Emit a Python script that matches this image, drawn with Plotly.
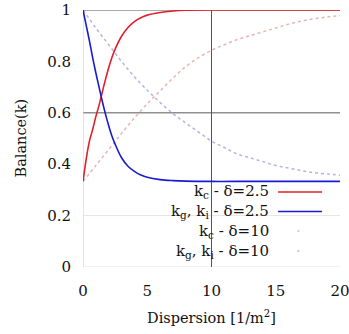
import plotly.graph_objects as go

# ---- data ----
x_solid = [0, 0.25, 0.5, 0.75, 1, 1.25, 1.5, 1.75, 2, 2.25, 2.5, 3, 3.5, 4, 4.5, 5, 6, 7, 8, 10, 12, 15, 20]
kc_25 = [0.333, 0.42, 0.49, 0.535, 0.585, 0.63, 0.68, 0.73, 0.775, 0.815, 0.848, 0.898, 0.932, 0.955, 0.97, 0.98, 0.99, 0.996, 0.999, 1.0, 1.0, 1.0, 1.0]
kg_25 = [1.0, 0.94, 0.88, 0.815, 0.755, 0.70, 0.645, 0.595, 0.55, 0.51, 0.478, 0.425, 0.392, 0.372, 0.358, 0.349, 0.34, 0.336, 0.334, 0.333, 0.333, 0.333, 0.333]

x_dot = [0, 1, 2, 3, 4, 5, 6, 7, 8, 9, 10, 11, 12, 13, 14, 15, 16, 17, 18, 19, 20]
kc_10 = [0.333, 0.395, 0.457, 0.52, 0.58, 0.635, 0.685, 0.735, 0.78, 0.815, 0.843, 0.865, 0.885, 0.90, 0.915, 0.93, 0.945, 0.957, 0.966, 0.973, 0.978]
kg_10 = [1.0, 0.93, 0.865, 0.80, 0.74, 0.688, 0.64, 0.597, 0.56, 0.525, 0.49, 0.465, 0.44, 0.425, 0.41, 0.395, 0.385, 0.375, 0.367, 0.362, 0.357]

series_names = ["k<sub>c</sub> - δ=2.5", "k<sub>g</sub>, k<sub>i</sub> - δ=2.5",
                "k<sub>c</sub> - δ=10", "k<sub>g</sub>, k<sub>i</sub> - δ=10"]
x_ticks = [0, 5, 10, 15, 20]
y_ticks = [0, 0.2, 0.4, 0.6, 0.8, 1]
y_tick_text = ["0", "0.2", "0.4", "0.6", "0.8", "1"]

RED = "#e0202a"
BLUE = "#1a1ad0"
RED_L = "rgba(215,130,130,0.6)"
BLUE_L = "rgba(130,130,205,0.6)"
FONT = "DejaVu Serif"

fig = go.Figure()
fig.add_trace(go.Scatter(x=x_dot, y=kc_10, mode="lines", line=dict(color=RED_L, width=1.5, dash="dot", shape="spline"), showlegend=False))
fig.add_trace(go.Scatter(x=x_dot, y=kg_10, mode="lines", line=dict(color=BLUE_L, width=1.5, dash="dot", shape="spline"), showlegend=False))
fig.add_trace(go.Scatter(x=x_solid, y=kc_25, mode="lines", line=dict(color=RED, width=1.6, shape="spline"), showlegend=False))
fig.add_trace(go.Scatter(x=x_solid, y=kg_25, mode="lines", line=dict(color=BLUE, width=1.6, shape="spline"), showlegend=False))

shapes = []
def hline(y, color, w):
    shapes.append(dict(type="line", xref="x", yref="y", x0=0, x1=20, y0=y, y1=y, line=dict(color=color, width=w), layer="below"))
def vline(x, color, w):
    shapes.append(dict(type="line", xref="x", yref="y", x0=x, x1=x, y0=0, y1=1, line=dict(color=color, width=w), layer="below"))
hline(0, "#e4e4e4", 1)
hline(0.2, "#e4e4e4", 1)
hline(0.6, "#909090", 1.5)
hline(1, "#555555", 1.2)
vline(0, "#cccccc", 1)
vline(10, "#555555", 1)
shapes.append(dict(type="rect", xref="paper", yref="paper", x0=0.28, x1=1.04, y0=0.033, y1=0.329,
                   fillcolor="white", line=dict(width=0), layer="below"))
rows_y = [0.292, 0.216, 0.140, 0.062]
sample_styles = [(RED, 1.6, "solid", 0.759, 0.930), (BLUE, 1.6, "solid", 0.759, 0.930),
                 (RED_L, 1.5, "dot", 0.834, 0.842), (BLUE_L, 1.5, "dot", 0.834, 0.842)]
for yy, (c, w, d, xa, xb) in zip(rows_y, sample_styles):
    shapes.append(dict(type="line", xref="paper", yref="paper", x0=xa, x1=xb, y0=yy, y1=yy,
                       line=dict(color=c, width=w, dash=d), layer="above"))

annotations = []
for yy, name in zip(rows_y, series_names):
    annotations.append(dict(xref="paper", yref="paper", x=0.73, y=yy, xanchor="right", yanchor="middle",
                            text=name, showarrow=False, font=dict(family=FONT, size=15, color="#111")))
annotations.append(dict(xref="paper", yref="paper", x=0.5, y=(267.5 - 317) / 257,
                        xanchor="center", yanchor="middle", text="Dispersion [1/m<sup>2</sup>]",
                        showarrow=False, font=dict(family=FONT, size=14.5, color="#111")))
annotations.append(dict(xref="paper", yref="paper", x=(20 - 83) / 257, y=0.5, textangle=-90,
                        xanchor="center", yanchor="middle", text="Balance(k)",
                        showarrow=False, font=dict(family=FONT, size=14.5, color="#111")))

fig.update_layout(
    width=349, height=334,
    font=dict(family=FONT),
    margin=dict(l=83, r=9, t=10, b=67, autoexpand=False),
    paper_bgcolor="white", plot_bgcolor="white",
    shapes=shapes, annotations=annotations,
    xaxis=dict(range=[0, 20], tickvals=x_ticks, showgrid=False, zeroline=False, showline=False,
               ticks="outside", ticklen=10, tickcolor="rgba(0,0,0,0)", automargin=False,
               ticklabeloverflow="allow",
               tickfont=dict(family=FONT, size=15, color="#111")),
    yaxis=dict(range=[0, 1], tickvals=y_ticks, ticktext=y_tick_text, showgrid=False, zeroline=False, showline=False,
               ticks="outside", ticklen=8, tickcolor="rgba(0,0,0,0)", automargin=False,
               ticklabeloverflow="allow",
               tickfont=dict(family=FONT, size=15, color="#111")),
    showlegend=False,
)
fig.write_html("out.html")
